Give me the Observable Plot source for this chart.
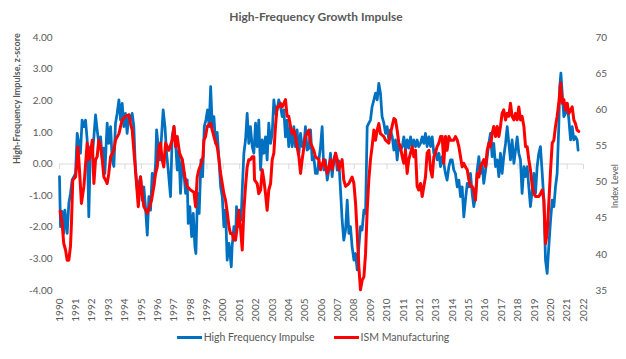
<!DOCTYPE html>
<html><head><meta charset="utf-8">
<script src="https://cdn.jsdelivr.net/npm/d3@7"></script>
<script src="https://cdn.jsdelivr.net/npm/@observablehq/plot@0.6"></script>
<style>
body{margin:0;background:#fff;font-family:Lato,"Open Sans",sans-serif;}
#wrap{position:relative;width:626px;height:359px;overflow:hidden;}
#title{position:absolute;left:3px;width:626px;top:9px;text-align:center;font-weight:bold;font-size:12px;color:#595959;}
#chart{position:absolute;left:0;top:30px;}
#legend{position:absolute;left:0;width:626px;top:331px;text-align:center;font-size:10.5px;color:#595959;white-space:nowrap;}
#legend .sw{display:inline-block;width:25px;height:3px;vertical-align:middle;margin-right:2px;position:relative;top:-1px;}
</style></head>
<body><div id="wrap"><div id="title"></div><div id="chart"></div><div id="legend"></div></div>
<script>
const titleText = "High-Frequency Growth Impulse";
const leftTitle = "High-Frequency Impulse, z-score";
const rightTitle = "Index Level";
const seriesNames = ["High Frequency Impulse", "ISM Manufacturing"];
const seriesColors = ["#0070C0", "#FF0000"];
const leftTicks = [-4, -3, -2, -1, 0, 1, 2, 3, 4];
const rightTicks = [35, 40, 45, 50, 55, 60, 65, 70];
const yearTicks = d3.range(1990, 2023);

const hfDates = [1990.00,1990.06,1990.16,1990.26,1990.33,1990.47,1990.57,1990.67,1990.77,1990.88,1990.98,1991.08,1991.18,1991.28,1991.38,1991.49,1991.59,1991.69,1991.79,1991.89,1992.00,1992.10,1992.20,1992.30,1992.40,1992.51,1992.61,1992.71,1992.77,1992.91,1993.01,1993.12,1993.22,1993.32,1993.42,1993.52,1993.63,1993.73,1993.83,1993.93,1994.03,1994.13,1994.24,1994.34,1994.44,1994.54,1994.64,1994.75,1994.85,1994.95,1995.05,1995.15,1995.25,1995.36,1995.46,1995.56,1995.66,1995.76,1995.87,1995.93,1996.03,1996.13,1996.23,1996.33,1996.44,1996.54,1996.64,1996.78,1996.88,1996.99,1997.09,1997.19,1997.29,1997.39,1997.50,1997.60,1997.70,1997.80,1997.86,1997.96,1998.07,1998.17,1998.27,1998.33,1998.43,1998.53,1998.64,1998.74,1998.84,1998.94,1999.04,1999.14,1999.23,1999.33,1999.43,1999.53,1999.63,1999.74,1999.84,1999.94,2000.04,2000.14,2000.24,2000.35,2000.49,
2000.54,2000.65,2000.75,2000.81,2000.89,2000.99,2001.09,2001.16,2001.26,2001.36,2001.46,2001.56,2001.66,2001.77,2001.87,2001.97,2002.07,2002.17,2002.28,2002.38,2002.48,2002.58,2002.68,2002.78,2002.89,2002.99,2003.09,2003.19,2003.29,2003.39,2003.50,2003.60,2003.70,2003.80,2003.90,2004.00,2004.11,2004.21,2004.31,2004.41,2004.51,2004.62,2004.72,2004.82,2004.92,2005.02,2005.12,2005.23,2005.33,2005.43,2005.53,2005.63,2005.74,2005.84,2005.94,2006.04,2006.14,2006.24,2006.35,2006.45,2006.55,2006.65,2006.75,2006.86,2006.96,2007.06,2007.16,2007.26,2007.36,2007.47,2007.57,2007.67,2007.77,2007.87,2007.98,2008.08,2008.18,2008.28,2008.38,2008.48,2008.59,2008.69,2008.79,2008.89,2008.99,2009.09,2009.20,2009.30,2009.40,2009.50,2009.60,2009.70,2009.81,2009.91,2010.01,2010.11,2010.21,2010.32,2010.42,2010.52,2010.62,2010.72,2010.82,2010.93,2011.03,2011.13,
2011.23,2011.33,2011.44,2011.54,2011.64,2011.74,2011.84,2011.94,2012.05,2012.15,2012.25,2012.35,2012.45,2012.56,2012.66,2012.76,2012.86,2012.96,2013.06,2013.17,2013.27,2013.37,2013.47,2013.57,2013.67,2013.78,2013.88,2013.98,2014.08,2014.18,2014.29,2014.39,2014.49,2014.59,2014.69,2014.79,2014.90,2015.00,2015.10,2015.20,2015.30,2015.40,2015.51,2015.61,2015.71,2015.81,2015.91,2016.02,2016.12,2016.22,2016.32,2016.42,2016.52,2016.63,2016.73,2016.83,2016.93,2017.03,2017.13,2017.24,2017.34,2017.44,2017.54,2017.64,2017.75,2017.85,2017.95,2018.05,2018.15,2018.25,2018.36,2018.46,2018.56,2018.66,2018.76,2018.87,2018.97,2019.07,2019.17,2019.27,2019.37,2019.48,2019.58,2019.68,2019.78,2019.88,2019.99,2020.09,2020.19,2020.29,2020.39,2020.49,2020.55,2020.62,2020.70,2020.80,2020.90,2021.00,2021.11,2021.21,2021.31,2021.41,2021.51,2021.61,2021.67];
const hfValues = [-0.40,-1.98,-1.50,-2.19,-1.46,-2.19,-1.24,-0.93,-0.51,-0.40,-0.30,0.97,0.65,0.34,1.39,1.18,1.39,0.76,-1.67,0.55,0.23,0.86,1.55,1.08,0.65,0.86,0.13,0.50,-0.30,1.29,0.65,1.18,0.13,-0.08,1.29,1.60,2.03,1.39,1.92,1.18,1.60,0.97,1.55,1.39,1.60,1.18,-0.19,-0.82,-0.61,-0.40,-1.14,-0.72,-1.35,-2.25,-1.03,-1.46,-0.30,-0.72,0.02,1.08,0.55,0.13,0.86,1.71,1.18,0.34,-0.19,-1.03,0.86,1.18,0.65,-0.19,0.44,-0.93,0.13,-0.30,-0.93,-0.50,-1.88,-1.35,-2.30,-1.56,-2.62,-2.83,-0.93,-1.56,0.13,-0.40,1.18,1.39,1.71,1.18,2.45,1.18,1.50,0.65,1.00,0.13,-0.72,-1.03,-1.98,-1.46,-3.04,-2.51,-3.25,
-2.62,-1.98,-2.41,-1.35,-1.98,-1.46,-1.77,-0.82,0.34,0.76,1.60,0.65,1.18,0.55,0.34,1.29,0.55,1.39,-0.19,0.76,0.34,0.86,0.13,1.29,0.65,0.97,2.03,1.60,1.71,2.03,1.81,1.50,1.71,0.86,1.39,0.55,1.18,0.55,1.18,0.55,1.08,0.34,0.97,0.55,0.55,1.18,0.44,0.50,1.08,0.13,0.23,-0.30,-0.30,0.13,0.55,1.18,-0.19,0.13,-0.51,-0.19,0.34,-0.40,0.13,0.34,-0.19,0.10,-0.82,-1.77,-2.41,-2.09,-1.14,-2.19,-1.98,-2.62,-3.04,-2.83,-3.35,-2.62,-1.98,-2.09,-1.46,-1.56,1.18,1.29,1.39,1.81,2.03,2.24,2.03,2.55,2.24,1.50,1.29,0.97,1.18,0.76,1.08,0.86,0.44,0.76,0.13,0.65,0.44,0.55,0.86,0.44,
0.76,0.50,0.86,0.55,0.76,0.55,0.76,0.55,0.65,0.86,0.65,0.97,0.55,0.86,0.55,0.86,0.34,0.44,0.13,0.34,-0.08,0.23,0.02,-0.30,-0.51,-0.08,0.13,0.13,-0.19,-0.30,-0.72,-0.51,-1.03,-0.72,-1.67,-1.14,-0.61,-0.72,-0.30,-0.93,-1.35,-1.03,-0.19,0.23,-0.30,0.02,-0.61,-0.19,0.23,0.65,0.97,0.23,0.65,-0.08,0.13,-0.40,0.34,-0.30,0.23,0.65,1.18,0.65,0.13,0.76,0.02,0.44,0.86,0.34,0.13,-0.93,-0.08,-0.40,-0.08,-0.72,-1.35,-0.82,-0.30,-0.93,-0.08,0.34,0.55,-0.30,-1.14,-3.04,-3.46,-2.62,-1.77,-1.14,-1.35,-0.72,-0.30,1.18,2.45,2.87,2.24,1.50,1.60,1.92,1.39,0.76,1.18,0.76,0.86,0.76,0.44];

const ismDates = [1990.04,1990.16,1990.26,1990.37,1990.47,1990.57,1990.67,1990.73,1990.81,1990.98,1991.08,1991.12,1991.18,1991.28,1991.34,1991.49,1991.69,1991.79,1991.89,1992.00,1992.10,1992.20,1992.30,1992.40,1992.51,1992.61,1992.71,1992.81,1992.91,1993.01,1993.12,1993.32,1993.42,1993.63,1993.73,1993.83,1994.03,1994.24,1994.34,1994.44,1994.54,1994.64,1994.75,1994.81,1994.95,1995.05,1995.15,1995.36,1995.50,1995.62,1995.76,1995.87,1995.97,1996.07,1996.17,1996.27,1996.37,1996.48,1996.68,1996.88,1996.99,1997.09,1997.19,1997.33,1997.50,1997.66,1997.80,1998.00,1998.21,1998.31,1998.41,1998.51,1998.66,1998.76,1998.82,1998.92,1999.02,1999.23,1999.33,1999.49,1999.63,1999.74,1999.84,2000.04,2000.14,2000.25,2000.35,2000.44,
2000.54,2000.65,2000.75,2000.85,2000.95,2001.05,2001.16,2001.26,2001.36,2001.46,2001.56,2001.66,2001.77,2001.87,2001.91,2002.07,2002.17,2002.28,2002.38,2002.48,2002.58,2002.68,2002.78,2002.89,2002.99,2003.09,2003.19,2003.29,2003.39,2003.50,2003.60,2003.70,2003.80,2003.90,2004.00,2004.11,2004.21,2004.31,2004.41,2004.51,2004.62,2004.72,2004.82,2005.02,2005.23,2005.33,2005.53,2005.63,2005.84,2005.94,2006.14,2006.35,2006.55,2006.65,2006.86,2006.96,2007.06,2007.26,2007.36,2007.47,2007.67,2007.87,2007.98,2008.08,2008.18,2008.28,2008.38,2008.48,2008.59,2008.69,2008.79,2008.89,2008.99,2009.09,2009.20,2009.30,2009.40,2009.50,2009.60,2009.81,2009.91,2010.11,2010.21,2010.42,2010.52,2010.62,2010.72,2010.82,2010.93,2011.03,2011.13,
2011.23,2011.33,2011.54,2011.64,2011.74,2011.84,2011.94,2012.05,2012.15,2012.25,2012.35,2012.45,2012.56,2012.66,2012.76,2012.86,2012.96,2013.06,2013.17,2013.27,2013.37,2013.47,2013.57,2013.67,2013.78,2013.88,2014.08,2014.18,2014.29,2014.39,2014.49,2014.59,2014.69,2014.79,2014.90,2015.00,2015.10,2015.20,2015.30,2015.40,2015.51,2015.61,2015.71,2015.81,2015.91,2016.02,2016.12,2016.22,2016.32,2016.42,2016.52,2016.63,2016.73,2016.83,2016.93,2017.03,2017.13,2017.24,2017.34,2017.44,2017.54,2017.64,2017.75,2017.85,2017.95,2018.05,2018.15,2018.25,2018.36,2018.46,2018.56,2018.66,2018.76,2018.87,2018.97,2019.07,2019.27,2019.37,2019.48,2019.58,2019.68,2019.78,2019.88,2019.99,2020.09,2020.19,2020.29,2020.39,2020.49,2020.60,2020.70,2020.80,2020.90,2021.00,2021.11,2021.31,2021.41,2021.51,2021.61,2021.71];
const ismValues = [46.0,44.3,41.5,40.6,39.2,39.2,41.1,44.3,50.3,50.7,53.1,54.9,53.1,49.4,47.05,49.4,55.4,53.1,54.0,55.8,49.8,53.1,53.5,55.8,54.9,53.1,50.7,50.3,49.8,51.2,53.5,54.4,55.8,56.7,57.7,58.6,59.1,59.3,58.1,57.2,54.4,51.7,48.4,46.6,50.7,48.4,46.6,45.7,46.6,47.5,49.4,51.2,52.1,54.9,55.4,53.1,52.1,55.4,54.4,55.8,57.7,54.9,56.3,54.0,53.1,50.7,49.4,48.9,48.6,46.6,50.7,51.7,52.6,53.5,55.8,56.3,57.7,58.1,57.2,55.8,54.9,53.1,51.2,48.4,47.5,45.7,43.8,42.9,
42.9,42.0,42.0,43.8,46.1,43.8,40.6,46.1,49.4,52.1,53.1,53.1,53.5,53.5,50.3,49.8,48.4,48.9,51.7,50.3,48.4,46.1,48.9,49.8,53.1,54.0,57.7,60.4,60.4,60.9,60.4,60.9,61.4,59.1,59.1,57.7,56.7,57.2,56.3,54.9,53.5,51.2,53.1,56.3,57.2,55.4,54.4,53.5,53.1,51.7,53.1,51.2,53.1,51.7,54.0,53.1,51.7,53.1,50.3,49.4,49.8,50.7,49.8,47.05,42.9,38.3,35.1,36.4,36.9,40.1,46.1,50.3,53.1,54.9,57.2,55.8,57.2,58.1,56.7,56.3,55.8,55.4,56.7,58.8,58.6,57.2,55.4,54.9,53.5,52.6,54.4,
51.2,53.1,54.9,53.5,54.4,49.4,48.9,49.8,48.0,49.4,50.7,54.0,54.4,51.7,50.7,53.5,54.0,54.9,55.4,56.3,56.3,52.6,56.3,54.4,56.3,55.8,55.8,56.3,55.8,54.9,53.5,52.1,52.6,52.1,51.7,50.3,49.4,49.4,48.9,47.5,51.2,50.7,52.1,52.6,53.1,52.1,54.4,55.4,54.9,56.7,57.7,56.3,57.7,56.3,57.7,59.5,59.98,58.6,59.5,59.1,60.9,59.1,58.6,59.5,58.6,60.4,58.6,59.1,57.7,54.9,54.9,53.1,51.7,49.4,48.4,48.0,48.0,48.4,48.9,47.5,41.5,42.9,47.05,51.7,55.4,55.8,57.7,59.1,60.9,63.7,60.9,61.4,59.98,60.9,59.5,60.4,58.6,58.1,57.2,57.0];

// secondary axis: 35..70 mapped onto -4..4
const toZ = v => (v - 52.5) / 4.375;

const hf = hfDates.map((d, i) => ({year: d, value: hfValues[i]}));
const ism = ismDates.map((d, i) => ({year: d, value: ismValues[i]}));

const tickDown = {draw(ctx) { ctx.moveTo(0, 0); ctx.lineTo(0, 5); }};

const chart = Plot.plot({
  width: 626, height: 300,
  marginLeft: 59, marginRight: 43, marginTop: 7, marginBottom: 40,
  style: {fontFamily: "Lato, 'Open Sans', sans-serif", fontSize: "10px", color: "#595959", background: "white", overflow: "visible"},
  x: {domain: [1990, 2022]},
  y: {domain: [-4, 4]},
  marks: [
    Plot.ruleY([0], {stroke: "#d9d9d9", strokeWidth: 1}),
    Plot.dot(yearTicks, {x: d => d, y: 0, symbol: tickDown, fill: "none", stroke: "#d9d9d9", strokeWidth: 1}),
    Plot.axisY({ticks: leftTicks, tickFormat: d => d.toFixed(2), tickSize: 0, tickPadding: 7, label: null, fill: "#595959"}),
    Plot.axisX({ticks: yearTicks, tickFormat: d => String(d), tickRotate: -90, tickSize: 0, tickPadding: 8, label: null, fill: "#595959"}),
    Plot.text(rightTicks, {frameAnchor: "right", y: d => toZ(d), text: d => String(d), dx: 12, textAnchor: "start", fill: "#595959"}),
    Plot.line(hf, {x: "year", y: "value", stroke: seriesColors[0], strokeWidth: 2.75, strokeLinejoin: "round"}),
    Plot.line(ism, {x: "year", y: d => toZ(d.value), stroke: seriesColors[1], strokeWidth: 3, strokeLinejoin: "round"}),
    Plot.text([leftTitle], {frameAnchor: "left", dx: -42, rotate: -90, fontWeight: "bold", fontSize: 9, fill: "#595959"}),
    Plot.text([rightTitle], {frameAnchor: "right", dx: 32, rotate: -90, fontSize: 9, fill: "#595959"})
  ]
});
document.getElementById("chart").appendChild(chart);
document.getElementById("title").textContent = titleText;
const lg = document.getElementById("legend");
seriesNames.forEach((n, i) => {
  const sw = document.createElement("span");
  sw.className = "sw";
  sw.style.background = seriesColors[i];
  if (i > 0) sw.style.marginLeft = "19px";
  lg.appendChild(sw);
  lg.appendChild(document.createTextNode(n));
});
</script></body></html>
